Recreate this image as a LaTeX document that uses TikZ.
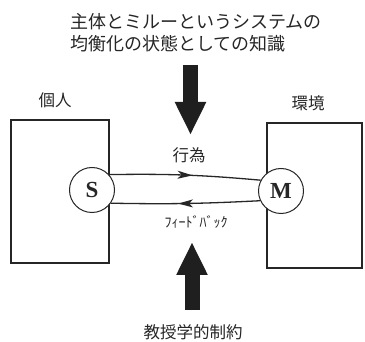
\documentclass[tikz,border=0pt]{standalone}
\usepackage{fontspec}
\newfontfamily\jp{Noto Sans CJK JP}
\newfontfamily\tms{Liberation Serif}
\usetikzlibrary{arrows.meta,decorations.markings}
\begin{document}
\begin{tikzpicture}[x=1pt,y=-1pt,
  lbl/.style={font=\jp\fontsize{16.5}{20}\selectfont, text=black!85, inner sep=0pt},
  ttl/.style={font=\jp\fontsize{18}{22}\selectfont, text=black!85, inner sep=0pt},
  small/.style={font=\jp\fontsize{14}{16}\selectfont, text=black!85, inner sep=0pt},
  boxx/.style={draw=black!85, line width=1.2pt},
  circ/.style={draw=black!85, circle, fill=white, line width=1pt, minimum size=45pt, inner sep=0pt, font=\tms\bfseries\fontsize{23}{23}\selectfont, text=black!85},
  bigarrow/.style={line width=15pt, black!88, -{Triangle[width=29pt,length=33pt]}},
  flow/.style={draw=black!85, line width=1.3pt, postaction={decorate}, decoration={markings, mark=at position 0.55 with {\arrow{Stealth[length=15pt,width=8pt,inset=4pt]}}}}
]
\useasboundingbox (0,0) rectangle (365,342);
\node[ttl, align=left, anchor=west] (title) at (70,33) {主体とミルーというシステムの\\均衡化の状態としての知識};
\node[lbl] (indiv) at (55,100) {個人};
\node[lbl] (env) at (308,103) {環境};
\draw[boxx] (11,120) rectangle (109,263);
\draw[boxx] (267,123) rectangle (362,268);
\node[circ] (S) at (92,190) {S};
\node[circ] (M) at (281,191) {M};
\node[lbl] (act) at (189,155) {行為};
\node[small] (fb) at (196,222) {ﾌｨｰﾄﾞﾊﾞｯｸ};
\node[lbl] (cons) at (193,332) {教授学的制約};
\coordinate (t0) at (190.5,65);
\coordinate (t1) at (190.5,135);
\coordinate (b0) at (192,310);
\coordinate (b1) at (192,242);
\draw[bigarrow] (t0) -- (t1);
\draw[bigarrow] (b0) -- (b1);
\draw[flow] (S.42) to[bend left=3] (M.152);
\draw[flow] (M.205) to[bend left=2] (S.-35);
\end{tikzpicture}
\end{document}
